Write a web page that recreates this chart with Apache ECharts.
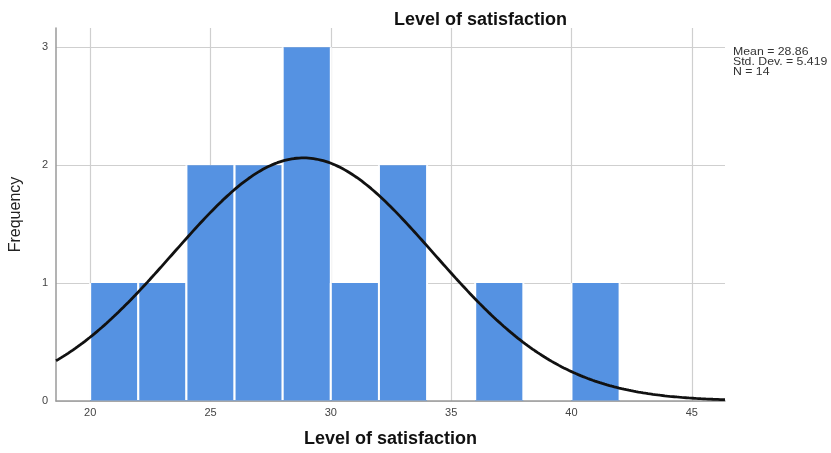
<!DOCTYPE html>
<html>
<head>
<meta charset="utf-8">
<script src="https://cdn.jsdelivr.net/npm/echarts@6/dist/echarts.min.js"></script>
<style>
  html, body { margin: 0; padding: 0; background: #fff; }
  #chart { width: 831px; height: 453px; }
</style>
</head>
<body>
<div id="chart"></div>
<script>
// Histogram bins (lower edges), bin width and counts
const binStarts = [20, 22, 24, 26, 28, 30, 32, 34, 36, 38, 40];
const binWidth = 2;
const counts = [1, 1, 2, 2, 3, 1, 2, 0, 1, 0, 1];

// Summary statistics shown beside the plot
const statMean = 28.86;
const statSd = 5.419;
const statN = 14;

// Axis tick labels
const xTicks = [20, 25, 30, 35, 40, 45];
const yTicks = [0, 1, 2, 3];

const xMin = 18.58, xMax = 46.38;
const yMax = 3.163;

const FONT = '"Liberation Sans", Arial, sans-serif';
const BAR_COLOR = '#5592e2';

// Bars as [start, end, count]
const bins = binStarts
  .map((s, i) => [s, s + binWidth, counts[i]])
  .filter(b => b[2] > 0);

// Normal curve scaled to counts: N * binWidth * pdf(x)
const curve = [];
for (let x = xMin; x <= xMax + 1e-9; x += 0.1) {
  const z = (x - statMean) / statSd;
  const y = statN * binWidth * Math.exp(-0.5 * z * z) / (statSd * Math.sqrt(2 * Math.PI));
  curve.push([x, y]);
}

const chart = echarts.init(document.getElementById('chart'));
chart.setOption({
  animation: false,
  title: {
    text: 'Level of satisfaction',
    left: 389,
    top: 6,
    textStyle: { fontFamily: FONT, fontSize: 18, fontWeight: 'bold', color: '#111' }
  },
  grid: { left: 54, right: 106, top: 28, bottom: 51 },
  xAxis: {
    type: 'value',
    min: xMin,
    max: xMax,
    name: 'Level of satisfaction',
    nameLocation: 'middle',
    nameGap: 29,
    nameTextStyle: { fontFamily: FONT, fontSize: 18, fontWeight: 'bold', color: '#111' },
    axisLine: { show: true, lineStyle: { color: '#9a9a9a', width: 1.5 } },
    axisTick: { show: false, customValues: xTicks },
    axisLabel: { customValues: xTicks, fontFamily: FONT, fontSize: 11, color: '#444', margin: 6 },
    splitLine: { show: true, lineStyle: { color: '#cfcfcf', width: 1.2 } }
  },
  yAxis: {
    type: 'value',
    min: 0,
    max: yMax,
    interval: 1,
    name: 'Frequency',
    nameLocation: 'middle',
    nameGap: 32,
    nameTextStyle: { fontFamily: FONT, fontSize: 16, color: '#222' },
    axisLine: { show: true, lineStyle: { color: '#9a9a9a', width: 1.5 } },
    axisTick: { show: false, customValues: yTicks },
    axisLabel: { customValues: yTicks, fontFamily: FONT, fontSize: 11, color: '#444', margin: 8 },
    splitLine: { show: true, lineStyle: { color: '#cfcfcf', width: 1.2 } }
  },
  graphic: [{
    type: 'text',
    x: 733,
    y: 47,
    scaleX: 1.17,
    style: {
      text: 'Mean = ' + statMean.toFixed(2) + '\nStd. Dev. = ' + statSd.toFixed(3) + '\nN = ' + statN,
      fontFamily: FONT,
      fontSize: 10.5,
      lineHeight: 10,
      fill: '#333'
    }
  }],
  series: [
    {
      type: 'custom',
      data: bins,
      encode: { x: [0, 1], y: 2 },
      renderItem: function (params, api) {
        const topLeft = api.coord([api.value(0), api.value(2)]);
        const bottomRight = api.coord([api.value(1), 0]);
        const x0 = topLeft[0], y0 = topLeft[1];
        const x1 = bottomRight[0], y1 = bottomRight[1];
        const edge = { stroke: '#ffffff', lineWidth: 2 };
        return {
          type: 'group',
          children: [
            {
              type: 'rect',
              shape: { x: x0, y: y0, width: x1 - x0, height: y1 - y0 - 0.5 },
              style: { fill: BAR_COLOR }
            },
            { type: 'line', shape: { x1: x0, y1: y0, x2: x0, y2: y1 - 1 }, style: edge },
            { type: 'line', shape: { x1: x1, y1: y0, x2: x1, y2: y1 - 1 }, style: edge }
          ]
        };
      },
      z: 2
    },
    {
      type: 'line',
      data: curve,
      showSymbol: false,
      smooth: false,
      clip: true,
      lineStyle: { color: '#111', width: 2.8 },
      z: 3
    }
  ]
});
</script>
</body>
</html>
